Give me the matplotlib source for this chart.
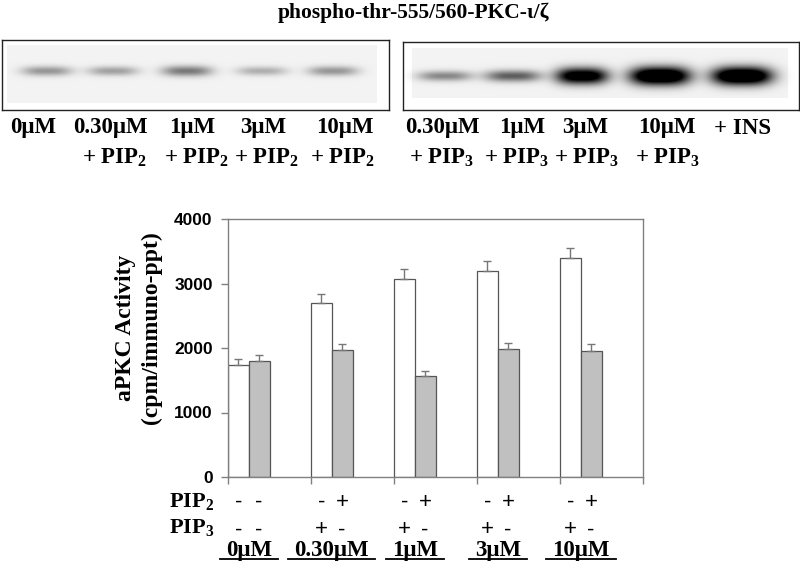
import numpy as np
import matplotlib
matplotlib.use("Agg")
import matplotlib.pyplot as plt

plt.rcParams["mathtext.fontset"] = "custom"
plt.rcParams["mathtext.rm"] = "Liberation Serif:bold"
plt.rcParams["mathtext.bf"] = "Liberation Serif:bold"
plt.rcParams["mathtext.it"] = "Liberation Serif:bold"

# ---- data ----
title = "phospho-thr-555/560-PKC-ι/ζ"
left_lanes = ["0μM", "0.30μM", "1μM", "3μM", "10μM"]
left_sub = ["", "+ PIP$_2$", "+ PIP$_2$", "+ PIP$_2$", "+ PIP$_2$"]
right_lanes = ["0.30μM", "1μM", "3μM", "10μM", "+ INS"]
right_sub = ["+ PIP$_3$", "+ PIP$_3$", "+ PIP$_3$", "+ PIP$_3$", ""]
left_band = [0.26, 0.23, 0.34, 0.19, 0.26]     # band darkness (0..1)
right_band = [0.30, 0.42, 0.85, 1.0, 1.0]

conc = ["0μM", "0.30μM", "1μM", "3μM", "10μM"]
white_vals = [1740, 2700, 3070, 3200, 3390]
white_err = [90, 140, 155, 150, 160]
gray_vals = [1800, 1970, 1560, 1990, 1960]
gray_err = [90, 95, 80, 90, 100]
pip2 = ["-", "-", "-", "+", "-", "+", "-", "+", "-", "+"]
pip3 = ["-", "-", "+", "-", "+", "-", "+", "-", "+", "-"]

W, H = 800, 565
fig = plt.figure(figsize=(W / 100, H / 100), dpi=100)
SERIF = "Liberation Serif"
SANS = "Liberation Sans"

def px_axes(x0, y0, x1, y1):
    return fig.add_axes([x0 / W, 1 - y1 / H, (x1 - x0) / W, (y1 - y0) / H])

def ftext(x, y, s, **kw):
    fig.text(x / W, 1 - y / H, s, **kw)

# ---- blots ----
def blot(box, inner, lane_x, band_y, dark, widths):
    x0, y0, x1, y1 = box
    ax = px_axes(x0, y0, x1, y1)
    xs = np.arange(x0, x1) + 0.5
    ys = np.arange(y0, y1) + 0.5
    X, Y = np.meshgrid(xs, ys)
    img = np.ones_like(X)
    ix0, iy0, ix1, iy1 = inner
    img[(X > ix0) & (X < ix1) & (Y > iy0) & (Y < iy1)] = 0.95
    d = np.zeros_like(X)
    for xc, I, w in zip(lane_x, dark, widths):
        sy = 2.4 + 4.0 * I
        d += I * np.exp(-np.abs((X - xc) / w) ** 3) * np.exp(-0.5 * ((Y - band_y) / sy) ** 2)
    img = np.clip(img - 1.4 * d, 0, 1)
    ax.imshow(img, cmap="gray", vmin=0, vmax=1, extent=(x0, x1, y1, y0),
              aspect="auto", interpolation="bilinear")
    ax.set_xticks([]); ax.set_yticks([])
    for s in ax.spines.values():
        s.set_linewidth(1.0); s.set_color("#222222")
    return ax

blot((2, 40, 389, 110), (7, 45, 377, 103), [47, 113, 187, 262, 333], 71,
     left_band, [25, 25, 25, 25, 25])
blot((403, 42, 799, 110), (412, 48, 788, 98), [445, 513, 582, 660, 742], 76,
     right_band, [27, 28, 26, 30, 30])

ftext(413, 13, title, ha="center", va="center", family=SERIF, weight="bold", fontsize=15.5)
lab_kw = dict(ha="center", va="center", family=SERIF, weight="bold", fontsize=16.5)
for x, s in zip([33, 110, 192, 263, 345], left_lanes):
    ftext(x, 128, s, **lab_kw)
for x, s in zip([33, 115, 197, 267, 343], left_sub):
    if s:
        ftext(x, 158, s, **lab_kw)
for x, s in zip([442, 522, 585, 667, 743], right_lanes):
    ftext(x, 128, s, **lab_kw)
for x, s in zip([442, 517, 587, 668, 743], right_sub):
    if s:
        ftext(x, 158, s, **lab_kw)

# ---- bar chart ----
ax = px_axes(228, 219, 643, 477)
n = len(conc)
idx = np.arange(n)
bw = 0.25
edge = "#555555"
ekw = dict(ecolor="#777777", elinewidth=1, capsize=3, capthick=1)
ax.bar(idx + 0.125, white_vals, bw, color="white", edgecolor=edge, linewidth=0.9,
       yerr=[np.zeros(n), white_err], error_kw=ekw)
ax.bar(idx + 0.375, gray_vals, bw, color="#c0c0c0", edgecolor=edge, linewidth=0.9,
       yerr=[np.zeros(n), gray_err], error_kw=ekw)
ax.set_xlim(0, n)
ax.set_ylim(0, 4000)
ax.set_yticks(range(0, 4001, 1000))
ax.set_xticks(range(0, n + 1))
ax.set_xticklabels([])
for s in ax.spines.values():
    s.set_color("#808080"); s.set_linewidth(1.0)
ax.tick_params(axis="both", direction="out", length=5, color="#808080", width=1)
for t in ax.get_yticklabels():
    t.set_family(SANS); t.set_weight("bold"); t.set_fontsize(12.5)
ax.tick_params(axis="y", pad=6)

ftext(125, 328, "aPKC Activity", ha="center", va="center", rotation=90,
      family=SERIF, weight="bold", fontsize=17)
ftext(151, 328, "(cpm/immuno-ppt)", ha="center", va="center", rotation=90,
      family=SERIF, weight="bold", fontsize=17)

# +/- rows
xt = ax.get_xaxis_transform()
centers = np.ravel(np.column_stack([idx + 0.125, idx + 0.375]))
for x, s2, s3 in zip(centers, pip2, pip3):
    ax.text(x, -0.097, s2, transform=xt, ha="center", va="center", family=SANS, fontsize=16)
    ax.text(x, -0.205, s3, transform=xt, ha="center", va="center", family=SANS, fontsize=16)
ftext(214, 501, "PIP$_2$", ha="right", va="center", family=SERIF, weight="bold", fontsize=16)
ftext(214, 528, "PIP$_3$", ha="right", va="center", family=SERIF, weight="bold", fontsize=16)

labels = []
for i, s in enumerate(conc):
    labels.append(ax.text(i + 0.25, -0.283, s, transform=xt, ha="center", va="center",
                          family=SERIF, weight="bold", fontsize=16.5))
fig.canvas.draw()
r = fig.canvas.get_renderer()
inv = fig.transFigure.inverted()
for t in labels:
    bb = t.get_window_extent(r)
    (a, b), (c, _) = inv.transform([[bb.x0 - 6, bb.y0 + 2], [bb.x1 + 6, bb.y0]])
    fig.add_artist(plt.Line2D([a, c], [b, b], color="black", linewidth=1.3))

fig.savefig("out.png", dpi=100)
